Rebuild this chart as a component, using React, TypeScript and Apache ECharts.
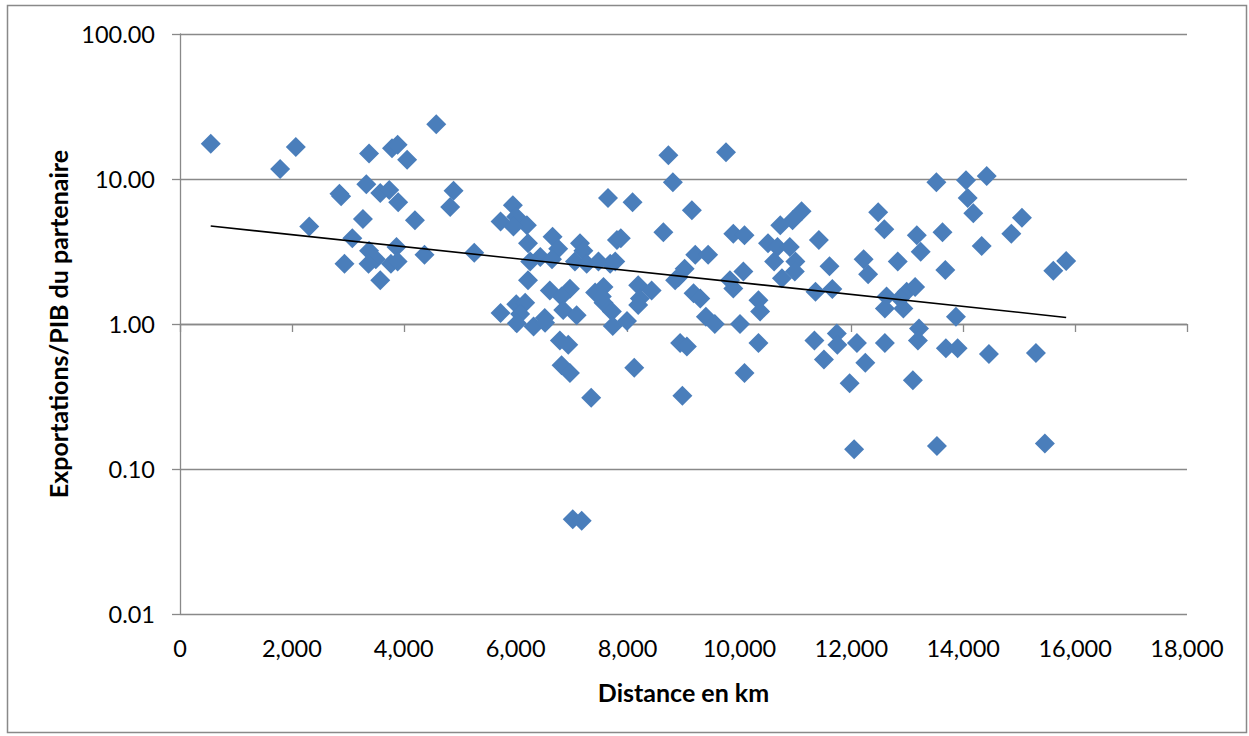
import React, { useEffect, useRef } from "react";
import * as echarts from "echarts";

// Distance (km) of each partner
const distanceKm = [
  550, 2070, 1790, 3380, 3790, 3890, 4060, 4580, 2850, 2880,
  3330, 3580, 3740, 3900, 4200, 3270, 2310, 3080, 3870, 3380,
  4370, 3500, 2940, 3370, 3770, 3890, 3580,
  8730, 8810, 4890, 4830, 7650, 8090, 5950, 9150, 5730, 6010,
  6200, 5960, 6220, 8640, 6660, 6760, 7150, 7210, 7810, 7880,
  5260, 6440, 6260, 6650, 7060, 7270, 7480, 7690, 7780, 8910,
  9020, 8850, 6220, 6610, 6970, 6820, 7420, 7570, 8190, 8430,
  8220, 8190, 6010, 6170, 5730, 6080, 6320, 6520, 6850, 7090,
  7570, 7720, 7990, 7540, 6020, 6525, 7735, 6790, 6940, 6820,
  6970, 8120, 7350, 8940, 9060, 8980, 7020, 7180,
  9760, 13520, 11110, 10950, 10730, 12480, 12590, 9890, 10090, 13170,
  13240, 10510, 10680, 10900, 11420, 9210, 9440, 10620, 11000, 10990,
  11610, 12220, 12830, 12300, 10070, 9830, 9890, 10760, 11360, 11660,
  9180, 9300, 10340, 10370, 9400, 9560, 10010, 12630, 12600, 12990,
  13140, 12930, 12870, 13210, 11740,
  10340, 10090, 11340, 11750, 11510, 12100, 12250, 11970, 12600, 13190,
  13100, 12050, 13530,
  14050, 14420, 14080, 14180, 15050, 14860, 13630, 14330, 13680, 15610,
  15840, 13870, 13690, 13900, 14460, 15300, 15460,
];

// Exports / partner GDP for each partner (same order)
const exportsToGdp = [
  17.5, 16.6, 11.7, 15.0, 16.3, 17.2, 13.6, 23.9, 7.9, 7.6,
  9.2, 8.0, 8.4, 6.9, 5.2, 5.3, 4.7, 3.9, 3.4, 3.2,
  3.0, 2.8, 2.6, 2.6, 2.6, 2.7, 2.0,
  14.6, 9.5, 8.3, 6.4, 7.4, 6.9, 6.6, 6.1, 5.1, 5.5,
  4.8, 4.7, 3.6, 4.3, 4.0, 3.3, 3.6, 3.2, 3.8, 3.9,
  3.1, 2.9, 2.7, 2.8, 2.7, 2.6, 2.7, 2.6, 2.7, 2.1,
  2.4, 2.0, 2.0, 1.7, 1.75, 1.55, 1.65, 1.8, 1.85, 1.7,
  1.5, 1.35, 1.37, 1.4, 1.19, 1.17, 0.96, 1.1, 1.25, 1.15,
  1.4, 1.22, 1.05, 1.55, 1.01, 1.02, 0.97, 0.77, 0.72, 0.52,
  0.46, 0.5, 0.31, 0.74, 0.7, 0.32, 0.045, 0.044,
  15.3, 9.5, 6.0, 5.2, 4.8, 5.9, 4.5, 4.2, 4.1, 4.1,
  3.15, 3.6, 3.4, 3.4, 3.8, 3.0, 3.0, 2.7, 2.7, 2.3,
  2.5, 2.8, 2.7, 2.2, 2.3, 2.0, 1.76, 2.07, 1.67, 1.74,
  1.63, 1.5, 1.46, 1.22, 1.12, 1.0, 1.0, 1.55, 1.28, 1.67,
  1.8, 1.28, 1.5, 0.93, 0.86,
  0.74, 0.46, 0.77, 0.72, 0.57, 0.74, 0.54, 0.39, 0.74, 0.77,
  0.41, 0.137, 0.144,
  9.8, 10.5, 7.4, 5.8, 5.4, 4.2, 4.3, 3.45, 2.36, 2.33,
  2.72, 1.12, 0.68, 0.68, 0.62, 0.63, 0.15,
];

// Exponential trend line end points (distance, value)
const trendDistance = [549, 15840];
const trendValue = [4.74, 1.11];

const xTicks = { min: 0, max: 18000, interval: 2000 };
const yRange = { min: 0.01, max: 100 };

const GRAY = "#898989";
const FONT = "Lato, 'Liberation Sans', sans-serif";

export default function App() {
  const ref = useRef<HTMLDivElement>(null);

  useEffect(() => {
    if (!ref.current) return;
    const chart = echarts.init(ref.current, null, { renderer: "svg" });
    const points = distanceKm.map((d, i) => [d, exportsToGdp[i]]);
    const trend = trendDistance.map((d, i) => [d, trendValue[i]]);

    chart.setOption({
      animation: false,
      backgroundColor: "#ffffff",
      textStyle: { fontFamily: FONT },
      grid: { left: 180, right: 62, top: 34, bottom: 122, containLabel: false },
      graphic: [
        {
          type: "rect",
          shape: { x: 7.5, y: 5.5, width: 1239, height: 727 },
          style: { fill: "none", stroke: GRAY, lineWidth: 1.5 },
          silent: true,
          z: -1,
        },
      ],
      xAxis: [
        {
          type: "value",
          min: xTicks.min,
          max: xTicks.max,
          interval: xTicks.interval,
          position: "bottom",
          axisLine: { show: false },
          axisTick: { show: false },
          splitLine: { show: false },
          axisLabel: {
            margin: 22,
            color: "#000",
            fontSize: 23.5,
            fontFamily: FONT,
            formatter: (v: number) => v.toLocaleString("en-US"),
          },
          name: "Distance en km",
          nameLocation: "middle",
          nameGap: 65,
          nameTextStyle: { color: "#000", fontSize: 25, fontWeight: "bold", fontFamily: FONT },
        },
        {
          type: "value",
          min: xTicks.min,
          max: xTicks.max,
          interval: xTicks.interval,
          position: "bottom",
          offset: -290,
          axisLine: { show: true, lineStyle: { color: GRAY, width: 1.3 } },
          axisTick: { show: true, length: 8, lineStyle: { color: GRAY, width: 1.3 } },
          axisLabel: { show: false },
          splitLine: { show: false },
        },
      ],
      yAxis: {
        type: "log",
        logBase: 10,
        min: yRange.min,
        max: yRange.max,
        splitNumber: 4,
        axisLine: { show: true, lineStyle: { color: GRAY, width: 1.3 } },
        axisTick: { show: true, length: 8, lineStyle: { color: GRAY, width: 1.3 } },
        splitLine: { show: true, lineStyle: { color: GRAY, width: 1.3 } },
        axisLabel: {
          margin: 25,
          color: "#000",
          fontSize: 23.5,
          fontFamily: FONT,
          formatter: (v: number) => v.toFixed(2),
        },
        name: "Exportations/PIB du partenaire",
        nameLocation: "middle",
        nameGap: 108,
        nameTextStyle: { color: "#000", fontSize: 25, fontWeight: "bold", fontFamily: FONT },
      },
      series: [
        {
          type: "scatter",
          xAxisIndex: 0,
          symbol: "diamond",
          symbolSize: 20,
          itemStyle: { color: "#4a7ebb", opacity: 1 },
          data: points,
          z: 3,
        },
        {
          type: "line",
          xAxisIndex: 0,
          data: trend,
          symbol: "none",
          lineStyle: { color: "#000", width: 1.6 },
          z: 4,
        },
      ],
    });
    return () => chart.dispose();
  }, []);

  return (
    <div
      ref={ref}
      style={{ position: "fixed", left: 0, top: 0, width: 1249, height: 736 }}
    />
  );
}
